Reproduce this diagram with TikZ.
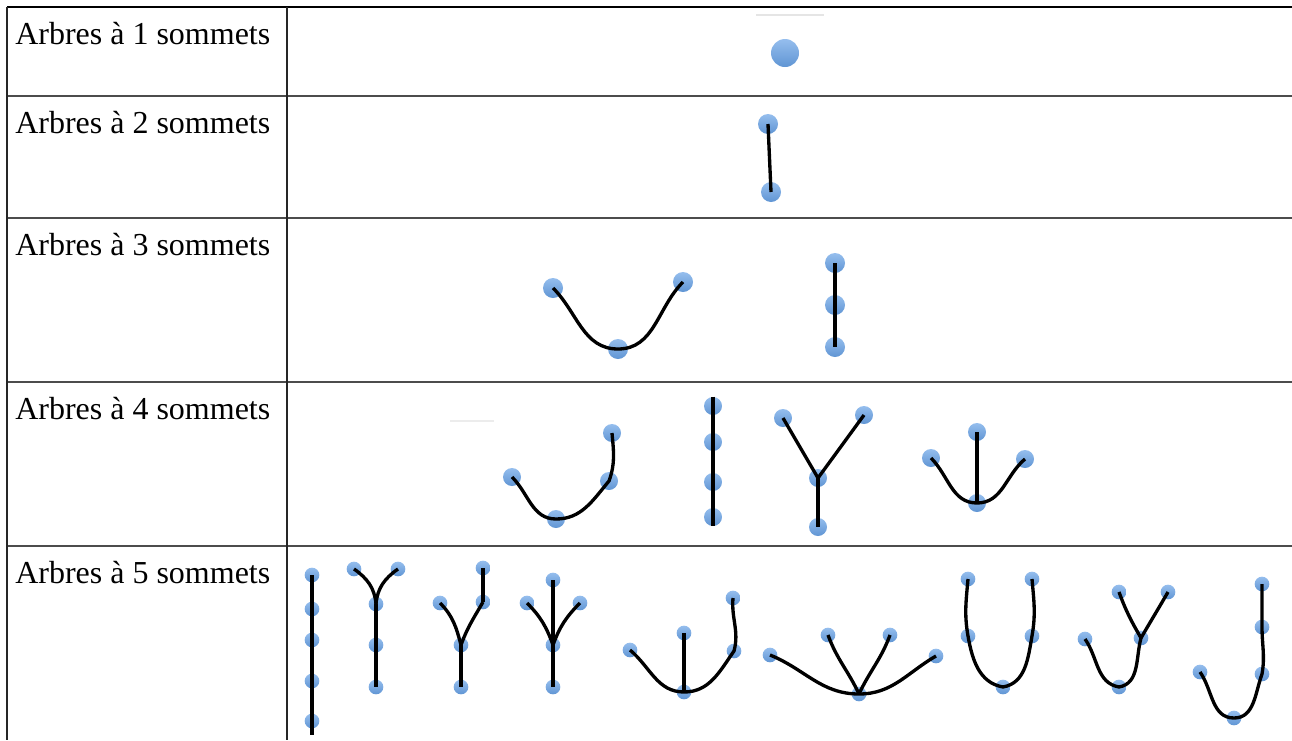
\documentclass[tikz,border=0pt]{standalone}
\usepackage{fontspec}
\setmainfont{Liberation Serif}
\definecolor{sommet}{RGB}{104,162,230}
\begin{document}
\begin{tikzpicture}[x=0.75pt,y=-0.75pt,
  som/.style={circle,inner sep=0pt,minimum size=#1,top color=sommet!70!white,bottom color=sommet!92!black},
  arete/.style={line width=2.5pt},
  trait/.style={line width=1.3pt,draw=black!70},
  titre/.style={anchor=base west,inner sep=0pt,font=\fontsize{24}{29}\selectfont}]
\useasboundingbox (0,0) rectangle (1292,740);
% tableau
\draw [line width=1.3pt] (7,7) -- (1292,7);
\draw [trait] (7,96) -- (1292,96);
\draw [trait] (7,218) -- (1292,218);
\draw [trait] (7,382) -- (1292,382);
\draw [trait] (7,546) -- (1292,546);
\draw [trait,draw=black!85] (7,7) -- (7,740);
\draw [trait,draw=black!85] (287,7) -- (287,740);
\draw [gray!20,line width=1.2pt] (756,15) -- (824,15);
\draw [gray!15,line width=1pt] (450,421) -- (494,421);
\node [titre] (t1) at (15,44) {Arbres à 1 sommets};
\node [titre] (t2) at (15,133) {Arbres à 2 sommets};
\node [titre] (t3) at (15,255) {Arbres à 3 sommets};
\node [titre] (t4) at (15,419) {Arbres à 4 sommets};
\node [titre] (t5) at (15,583) {Arbres à 5 sommets};
% 1 et 2 sommets
\node [som=21pt] (r1a1) at (785,53) {};
\node [som=15pt] (r2a1) at (768,124) {};
\node [som=15pt] (r2a2) at (771,192) {};
\draw [arete] (r2a1.center) -- (r2a2.center);
% 3 sommets
\node [som=15pt] (r3a1) at (553,288) {};
\node [som=15pt] (r3a2) at (618,349) {};
\node [som=15pt] (r3a3) at (683,282) {};
\node [som=15pt] (r3b1) at (835,263) {};
\node [som=15pt] (r3b2) at (835,305) {};
\node [som=15pt] (r3b3) at (835,347) {};
\draw [arete] (r3a1.center) to[out=-45,in=180] (r3a2.center) to[out=0,in=-135] (r3a3.center);
\draw [arete] (r3b1.center) -- (r3b3.center);
% 4 sommets
\node [som=13.5pt] (r4a1) at (512,477) {};
\node [som=13.5pt] (r4a2) at (556,519) {};
\node [som=13.5pt] (r4a3) at (609,481) {};
\node [som=13.5pt] (r4a4) at (612,433) {};
\node [som=13.5pt] (r4b1) at (713,406) {};
\node [som=13.5pt] (r4b2) at (713,442) {};
\node [som=13.5pt] (r4b3) at (713,482) {};
\node [som=13.5pt] (r4b4) at (713,517) {};
\node [som=13.5pt] (r4c1) at (783,418) {};
\node [som=13.5pt] (r4c2) at (864,415) {};
\node [som=13.5pt] (r4c3) at (818,478) {};
\node [som=13.5pt] (r4c4) at (818,527) {};
\node [som=13.5pt] (r4d1) at (931,458) {};
\node [som=13.5pt] (r4d2) at (977,432) {};
\node [som=13.5pt] (r4d3) at (1025,459) {};
\node [som=13.5pt] (r4d4) at (977,503) {};
\draw [arete] (r4a1.center) to[out=-45,in=180] (r4a2.center) to[out=0,in=-130] (r4a3.center) to[out=70,in=-85] (r4a4.center);
\draw [arete] (r4b1.north) -- (r4b4.south);
\draw [arete] (r4c1.center) -- (r4c3.center) -- (r4c2.center);
\draw [arete] (r4c3.center) -- (r4c4.center);
\draw [arete] (r4d1.center) to[out=-45,in=180] (r4d4.center) to[out=0,in=-140] (r4d3.center);
\draw [arete] (r4d2.center) -- (r4d4.center);
% 5 sommets
\node [som=11pt] (r5a1) at (312,575) {};
\node [som=11pt] (r5a2) at (312,609) {};
\node [som=11pt] (r5a3) at (312,640) {};
\node [som=11pt] (r5a4) at (312,681) {};
\node [som=11pt] (r5a5) at (312,721) {};
\coordinate (r5a6) at (312,735);
\draw [arete] (r5a1.center) -- (r5a6);
\node [som=11pt] (r5b1) at (354,569) {};
\node [som=11pt] (r5b2) at (398,569) {};
\node [som=11pt] (r5b3) at (376,604) {};
\node [som=11pt] (r5b4) at (376,645) {};
\node [som=11pt] (r5b5) at (376,687) {};
\draw [arete] (r5b1.center) to[out=-35,in=95] (r5b3.center);
\draw [arete] (r5b2.center) to[out=-145,in=85] (r5b3.center);
\draw [arete] (r5b3.center) -- (r5b5.center);
\node [som=11pt] (r5c1) at (440,603) {};
\node [som=11pt] (r5c2) at (483,602) {};
\node [som=11pt] (r5c3) at (483,568) {};
\node [som=11pt] (r5c4) at (461,645) {};
\node [som=11pt] (r5c5) at (461,687) {};
\draw [arete] (r5c1.center) to[out=-45,in=105] (r5c4.center);
\draw [arete] (r5c2.center) to[out=-120,in=70] (r5c4.center);
\draw [arete] (r5c2.center) -- (r5c3.center);
\draw [arete] (r5c4.center) -- (r5c5.center);
\node [som=11pt] (r5d1) at (553,580) {};
\node [som=11pt] (r5d2) at (527,603) {};
\node [som=11pt] (r5d3) at (580,603) {};
\node [som=11pt] (r5d4) at (553,645) {};
\node [som=11pt] (r5d5) at (553,687) {};
\draw [arete] (r5d1.center) -- (r5d5.center);
\draw [arete] (r5d2.center) to[out=-45,in=110] (r5d4.center);
\draw [arete] (r5d3.center) to[out=-135,in=70] (r5d4.center);
\node [som=11pt] (r5e1) at (630,650) {};
\node [som=11pt] (r5e2) at (684,633) {};
\node [som=11pt] (r5e3) at (734,651) {};
\node [som=11pt] (r5e4) at (733,598) {};
\node [som=11pt] (r5e5) at (684,692) {};
\draw [arete] (r5e1.center) to[out=-40,in=180] (r5e5.center) to[out=0,in=-125] (r5e3.center) to[out=75,in=-95] (r5e4.center);
\draw [arete] (r5e2.center) -- (r5e5.center);
\node [som=11pt] (r5f1) at (770,655) {};
\node [som=11pt] (r5f2) at (828,635) {};
\node [som=11pt] (r5f3) at (890,635) {};
\node [som=11pt] (r5f4) at (936,656) {};
\node [som=11pt] (r5f5) at (859,694) {};
\draw [arete] (r5f1.center) to[out=-22,in=180] (r5f5.center) to[out=0,in=-150] (r5f4.center);
\draw [arete] (r5f2.center) to[out=-70,in=115] (r5f5.center);
\draw [arete] (r5f3.center) to[out=-110,in=65] (r5f5.center);
\node [som=11pt] (r5g1) at (968,579) {};
\node [som=11pt] (r5g2) at (1032,579) {};
\node [som=11pt] (r5g3) at (968,636) {};
\node [som=11pt] (r5g4) at (1032,636) {};
\node [som=11pt] (r5g5) at (1003,687) {};
\draw [arete] (r5g1.center) to[out=-95,in=100] (r5g3.center) to[out=-80,in=170] (r5g5.center) to[out=10,in=-100] (r5g4.center) to[out=80,in=-85] (r5g2.center);
\node [som=11pt] (r5h1) at (1119,592) {};
\node [som=11pt] (r5h2) at (1168,592) {};
\node [som=11pt] (r5h3) at (1141,638) {};
\node [som=11pt] (r5h4) at (1085,639) {};
\node [som=11pt] (r5h5) at (1119,687) {};
\draw [arete] (r5h1.center) to[out=-70,in=120] (r5h3.center);
\draw [arete] (r5h2.center) to[out=-120,in=60] (r5h3.center);
\draw [arete] (r5h4.center) to[out=-55,in=170] (r5h5.center) to[out=10,in=-105] (r5h3.center);
\node [som=11pt] (r5i1) at (1262,584) {};
\node [som=11pt] (r5i2) at (1262,627) {};
\node [som=11pt] (r5i3) at (1262,674) {};
\node [som=11pt] (r5i4) at (1200,672) {};
\node [som=11pt] (r5i5) at (1234,718) {};
\draw [arete] (r5i4.center) to[out=-55,in=180] (r5i5.center) to[out=0,in=-110] (r5i3.center) to[out=80,in=-90] (r5i2.center) -- (r5i1.center);
\end{tikzpicture}
\end{document}
